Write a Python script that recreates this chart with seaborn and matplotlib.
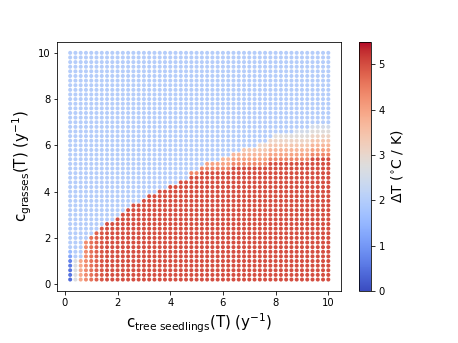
import numpy as np
import pandas as pd
import matplotlib
matplotlib.use("Agg")
import matplotlib.pyplot as plt
import seaborn as sns

# grid of rates (y^-1) used for the scan
c_tree = [0.2, 0.4, 0.6, 0.8, 1.0, 1.2, 1.4, 1.6, 1.8, 2.0,
          2.2, 2.4, 2.6, 2.8, 3.0, 3.2, 3.4, 3.6, 3.8, 4.0,
          4.2, 4.4, 4.6, 4.8, 5.0, 5.2, 5.4, 5.6, 5.8, 6.0,
          6.2, 6.4, 6.6, 6.8, 7.0, 7.2, 7.4, 7.6, 7.8, 8.0,
          8.2, 8.4, 8.6, 8.8, 9.0, 9.2, 9.4, 9.6, 9.8, 10.0]
c_grass = list(c_tree)

# per column of c_tree: number of rows (from bottom) in the warm state
red_top_row = [0, 0, 5, 9, 10, 11, 12, 13, 13, 14,
               15, 16, 17, 17, 18, 19, 19, 20, 20, 21,
               21, 22, 22, 23, 23, 24, 24, 24, 24, 24,
               24, 25, 25, 25, 25, 25, 25, 25, 26, 26,
               26, 26, 26, 26, 26, 26, 27, 27, 27, 27]
# warm state value per column
red_level = [0.0, 0.0, 3.9, 4.3, 4.6, 4.8, 4.9] + [5.0] * 43
# rows of gradual transition above the warm state
fade_rows = [0] * 22 + [0, 1, 1, 1, 2, 2, 2, 3, 3, 3,
                        3, 4, 4, 4, 5, 5, 5, 6, 6, 6,
                        6, 7, 7, 7, 7, 7, 7, 7]
fade_levels = [4.4, 4.0, 3.7, 3.4, 3.1, 2.8, 2.5]
blue_level = 2.0

# left edge columns read separately (bottom rows)
left_edge = {
    0.2: [0.4, 0.5, 0.5, 0.6, 0.7, 1.2, 1.6],
    0.4: [2.7, 2.7, 2.7, 2.7, 2.7],
}

rows = []
for i, x in enumerate(c_tree):
    for j, y in enumerate(c_grass):
        r = j + 1
        if x in left_edge and r <= len(left_edge[x]):
            v = left_edge[x][r - 1]
        elif r <= red_top_row[i]:
            v = red_level[i]
        elif r - red_top_row[i] <= fade_rows[i]:
            v = fade_levels[r - red_top_row[i] - 1]
        else:
            v = blue_level
        rows.append({"c_tree": x, "c_grass": y, "dT": v})
df = pd.DataFrame(rows)

fig, ax = plt.subplots(figsize=(458 / 72, 343 / 72), dpi=72)
fig.subplots_adjust(left=0.125, right=0.9, bottom=0.152, top=0.879)

sns.scatterplot(data=df, x="c_tree", y="c_grass", hue="dT",
                palette="coolwarm", hue_norm=(0, 5.5), s=16,
                linewidth=0, legend=False, ax=ax)

sm = plt.cm.ScalarMappable(cmap="coolwarm", norm=plt.Normalize(0, 5.5))
cb = fig.colorbar(sm, ax=ax)
cb.set_label(r"$\Delta$T ($^{\circ}$C / K)", fontsize=14)

ax.set_xlabel(r"c$_{\mathrm{tree\ seedlings}}$(T) (y$^{-1}$)", fontsize=15)
ax.set_ylabel(r"c$_{\mathrm{grasses}}$(T) (y$^{-1}$)", fontsize=15)

fig.savefig("out.png", dpi=72)
